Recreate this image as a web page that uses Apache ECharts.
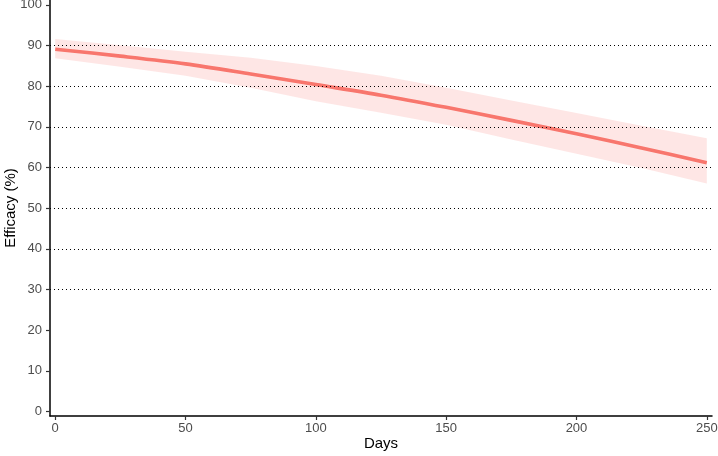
<!DOCTYPE html>
<html>
<head>
<meta charset="utf-8">
<script src="https://cdn.jsdelivr.net/npm/echarts@6/dist/echarts.min.js"></script>
<style>html,body{margin:0;padding:0;background:#fff}#c{width:718px;height:456px}</style>
</head>
<body>
<div id="c"></div>
<script>
const days = [0, 25, 50, 75, 100, 125, 150, 175, 200, 225, 250];
const efficacy = [89.1, 87.4, 85.5, 83.0, 80.4, 77.8, 74.8, 71.6, 68.3, 64.8, 61.2];
const upperCI = [91.6, 90.1, 88.5, 87.0, 85.0, 82.6, 79.6, 76.5, 73.4, 70.3, 67.2];
const lowerCI = [86.9, 84.8, 82.6, 79.6, 76.3, 73.5, 70.5, 66.9, 63.4, 59.9, 56.1];
const xTicks = [0, 50, 100, 150, 200, 250];
const yTicks = [0, 10, 20, 30, 40, 50, 60, 70, 80, 90, 100];
const refLines = [30, 40, 50, 60, 70, 80, 90];

const font = '"Liberation Sans", Arial, Helvetica, sans-serif';
const chart = echarts.init(document.getElementById('c'));
const bandData = days.map((d, i) => [d, lowerCI[i], upperCI[i]]);
chart.setOption({
  animation: false,
  grid: { left: 50, right: 6, top: 0, bottom: 40, containLabel: false, outerBoundsMode: 'none' },
  xAxis: {
    type: 'value', min: -2, max: 252,
    name: 'Days', nameLocation: 'middle', nameGap: 20, nameMoveOverlap: false,
    nameTextStyle: { color: '#000', fontSize: 15, fontFamily: font },
    axisLine: { show: true, onZero: false, lineStyle: { color: '#000', width: 1.5 } },
    axisTick: { show: true, length: 4, customValues: xTicks, lineStyle: { color: '#333', width: 1.2 } },
    axisLabel: { customValues: xTicks, color: '#4d4d4d', fontSize: 13, fontFamily: font, margin: 6 },
    splitLine: { show: false }
  },
  yAxis: {
    type: 'value', min: -1.1, max: 101.2,
    name: 'Efficacy (%)', nameLocation: 'middle', nameGap: 32, nameMoveOverlap: false,
    nameTextStyle: { color: '#000', fontSize: 15, fontFamily: font },
    axisLine: { show: true, onZero: false, lineStyle: { color: '#000', width: 1.5 } },
    axisTick: { show: true, length: 4, customValues: yTicks, lineStyle: { color: '#333', width: 1.2 } },
    axisLabel: { customValues: yTicks, color: '#4d4d4d', fontSize: 13, fontFamily: font, margin: 8 },
    splitLine: { show: false }
  },
  series: [
    {
      type: 'custom', silent: true, z: 1,
      data: bandData,
      encode: { x: 0, y: [1, 2] },
      renderItem: function (params, api) {
        if (params.dataIndex !== 0) return null;
        const pts = [];
        for (let i = 0; i < bandData.length; i++) pts.push(api.coord([bandData[i][0], bandData[i][2]]));
        for (let i = bandData.length - 1; i >= 0; i--) pts.push(api.coord([bandData[i][0], bandData[i][1]]));
        return {
          type: 'polygon',
          shape: { points: pts, smooth: 0 },
          style: { fill: 'rgba(248,118,109,0.18)', stroke: 'none' }
        };
      }
    },
    {
      type: 'line', symbol: 'none', smooth: 0.3, silent: true,
      data: days.map((d, i) => [d, efficacy[i]]),
      lineStyle: { color: '#F8766D', width: 3.6 }, z: 3,
      markLine: {
        silent: true, symbol: 'none', label: { show: false },
        lineStyle: { color: '#000', type: [1, 3], width: 1 },
        data: refLines.map(v => ({ yAxis: v }))
      }
    }
  ]
});
</script>
</body>
</html>
